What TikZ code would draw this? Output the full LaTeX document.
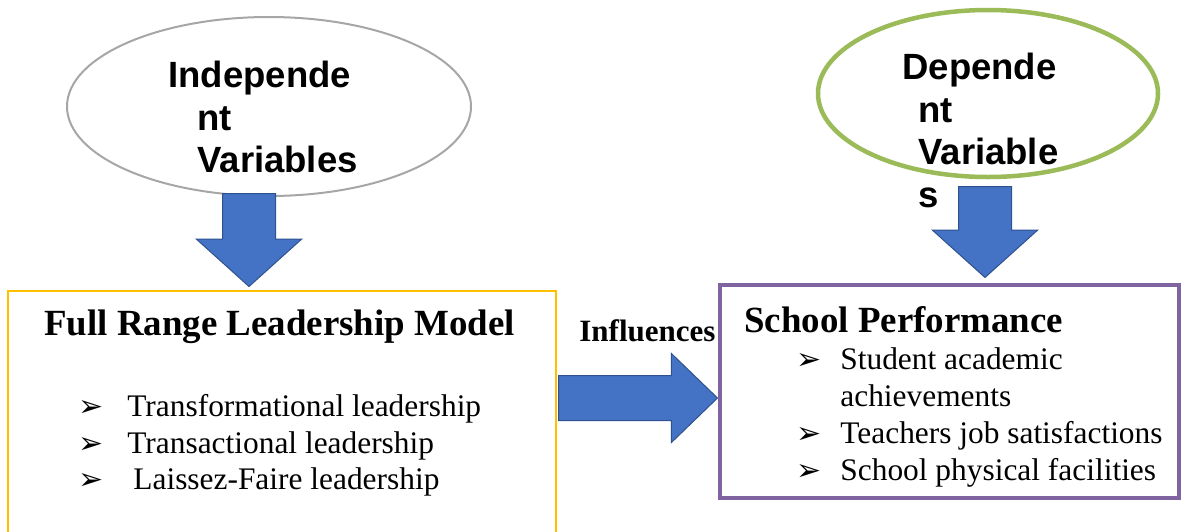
\documentclass[tikz,border=0pt]{standalone}
\usepackage{fontspec}
\setmainfont{Liberation Serif}
\newfontfamily\labelfont{Liberation Sans}
\newfontfamily\arrowfont{DejaVu Sans}
\usetikzlibrary{shapes.geometric, shapes.arrows}

\definecolor{arrowblue}{HTML}{4472C4}
\definecolor{arrowedge}{HTML}{2F528F}
\definecolor{ovalgrey}{HTML}{A6A6A6}
\definecolor{ovalgreen}{HTML}{9BBB59}
\definecolor{boxyellow}{HTML}{FFC000}
\definecolor{boxpurple}{HTML}{8064A2}

% list marker, padded to the text column
\newcommand{\pointer}[1]{\makebox[#1][l]{\arrowfont\fontsize{15}{15}\selectfont ➢}}

\tikzset{
	oval/.style = {ellipse, inner sep = 0},
	frame/.style = {rectangle, inner sep = 0},
	bigarrow/.style = {single arrow, anchor = tail, fill = arrowblue, draw = arrowedge, line width = 0.5 pt, inner xsep = 0},
	varlabel/.style = {anchor = north west, inner sep = 0, align = left, font = \labelfont\bfseries\fontsize{18.25}{21.25}\selectfont},
	heading/.style = {anchor = base west, inner sep = 0, font = \bfseries\fontsize{15.5}{18}\selectfont},
	itemlist/.style = {anchor = north west, inner sep = 0, align = left, font = \fontsize{15.7}{18.25}\selectfont}
}

\begin{document}
\begin{tikzpicture}[x = 0.5 pt, y = -0.5 pt]

	\clip (0, 0) rectangle (1183, 531);

	\node (indep) [oval, draw = ovalgrey, line width = 1 pt, minimum width = 202 pt, minimum height = 89.5 pt] at (269, 106.5) {};

	\node (dep) [oval, draw = ovalgreen, line width = 2.25 pt, minimum width = 170 pt, minimum height = 83.5 pt] at (988, 93.5) {};

	\node (flrm) [frame, draw = boxyellow, line width = 1 pt, minimum width = 274 pt, minimum height = 134.5 pt] at (282, 425.5) {};

	\node (perf) [frame, draw = boxpurple, line width = 2 pt, minimum width = 229.5 pt, minimum height = 106.5 pt] at (949.5, 391.5) {};

	% block arrows, placed by their tails
	\node (indeparrow) [bigarrow, rotate = -90, inner ysep = 13 pt, single arrow head extend = 13 pt, single arrow tip angle = 96, minimum height = 46.5 pt] at (249, 193) {};

	\node (deparrow) [bigarrow, rotate = -90, inner ysep = 13 pt, single arrow head extend = 13 pt, single arrow tip angle = 96, minimum height = 45.5 pt] at (985, 186) {};

	\node (influarrow) [bigarrow, inner ysep = 11 pt, single arrow head extend = 11 pt, single arrow tip angle = 88, minimum height = 79.5 pt] at (558, 398) {};

	% oval texts
	\node (indeptext) [varlabel] at (168, 61) {Independe\\\hspace*{14.5 pt}nt\\\hspace*{14.5 pt}Variables};

	\node (deptext) [varlabel] at (902, 53) {Depende\\\hspace*{8 pt}nt\\\hspace*{8 pt}Variable\\\hspace*{8 pt}s};

	% box texts
	\node (flrmtitle) [heading, font = \bfseries\fontsize{18.45}{21}\selectfont] at (44, 335) {Full Range Leadership Model};

	\node (flrmlist) [itemlist] at (78, 394) {\pointer{24.5 pt}Transformational leadership\\
		\pointer{24.5 pt}Transactional leadership\\
		\pointer{24.5 pt}\hspace{3 pt}Laissez-Faire leadership};

	\node (influtext) [heading] at (579, 341) {Influences};

	\node (perftitle) [heading, font = \bfseries\fontsize{18.45}{21}\selectfont] at (744, 332) {School Performance};

	\node (perflist) [itemlist, font = \fontsize{15.7}{18.5}\selectfont] at (796, 347) {\pointer{22 pt}Student academic\\
		\hspace*{22 pt}achievements\\
		\pointer{22 pt}Teachers job satisfactions\\
		\pointer{22 pt}School physical facilities};

\end{tikzpicture}
\end{document}
